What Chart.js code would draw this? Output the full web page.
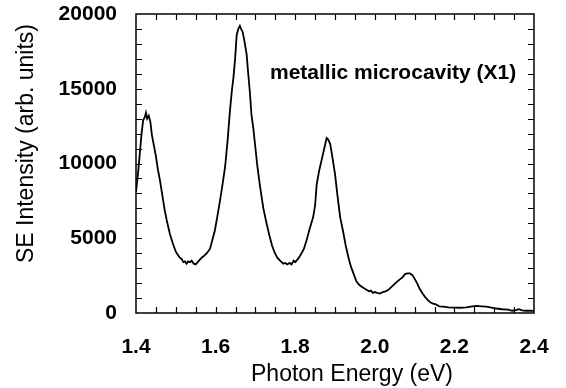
<!DOCTYPE html>
<html>
<head>
<meta charset="utf-8">
<script src="https://cdn.jsdelivr.net/npm/chart.js@4"></script>
<style>
  html, body { margin: 0; padding: 0; background: #fff; }
  #wrap { width: 566px; height: 388px; }
</style>
</head>
<body>
<div id="wrap"><canvas id="seChart"></canvas></div>
<script>
// photon energy (eV) and SE intensity
var energy = [1.400, 1.405, 1.410, 1.414, 1.418, 1.422, 1.425, 1.428, 1.432, 1.436, 1.440, 1.445, 1.450, 1.455, 1.460,
    1.466, 1.472, 1.478, 1.485, 1.492, 1.500, 1.505, 1.510, 1.515, 1.519, 1.523, 1.527, 1.531, 1.536, 1.540, 1.545,
    1.550, 1.555, 1.560, 1.565, 1.570, 1.578, 1.586, 1.592, 1.598, 1.604, 1.611, 1.618, 1.624, 1.630, 1.636, 1.641,
    1.645, 1.649, 1.653, 1.657, 1.661, 1.664, 1.668, 1.673, 1.678, 1.682, 1.686, 1.690, 1.695, 1.699, 1.705, 1.712,
    1.720, 1.728, 1.735, 1.742, 1.749, 1.755, 1.762, 1.770, 1.775, 1.780, 1.786, 1.791, 1.796, 1.800, 1.808, 1.816,
    1.822, 1.829, 1.836, 1.845, 1.850, 1.854, 1.860, 1.867, 1.873, 1.879, 1.883, 1.888, 1.893, 1.900, 1.906, 1.913,
    1.920, 1.927, 1.934, 1.940, 1.947, 1.954, 1.962, 1.970, 1.979, 1.985, 1.990, 1.995, 2.000, 2.006, 2.013, 2.020,
    2.027, 2.034, 2.042, 2.050, 2.056, 2.063, 2.070, 2.076, 2.082, 2.088, 2.094, 2.100, 2.107, 2.113, 2.120, 2.127,
    2.134, 2.140, 2.147, 2.155, 2.162, 2.172, 2.185, 2.200, 2.215, 2.230, 2.245, 2.256, 2.268, 2.280, 2.290, 2.305,
    2.320, 2.335, 2.345, 2.355, 2.362, 2.370, 2.380, 2.390, 2.400];
var intensity = [8100, 9300, 10800, 12000, 12900, 13100, 13400, 13000, 13200, 12800, 11900, 11200, 10500, 9600, 8900,
    7900, 6900, 6100, 5300, 4700, 4100, 3900, 3700, 3600, 3400, 3450, 3300, 3450, 3400, 3500, 3300,
    3250, 3400, 3550, 3700, 3800, 4000, 4300, 4900, 5500, 6400, 7500, 8700, 9800, 11500, 13500, 14900,
    15800, 17000, 18600, 19000, 19200, 19000, 18800, 18100, 17300, 16000, 14800, 13300, 12300, 11300, 9800, 8400,
    7000, 6000, 5200, 4500, 4000, 3700, 3500, 3300, 3350, 3250, 3350, 3250, 3500, 3400, 3650, 4000,
    4300, 4900, 5600, 6400, 7200, 8600, 9500, 10300, 11000, 11700, 11600, 11300, 10500, 9300, 7900, 6400,
    5500, 4500, 3700, 3100, 2600, 2100, 1850, 1700, 1550, 1450, 1500, 1350, 1400, 1350, 1300, 1400,
    1450, 1550, 1750, 1950, 2100, 2250, 2400, 2600, 2650, 2650, 2550, 2300, 1950, 1600, 1300, 1050,
    850, 700, 620, 560, 450, 420, 380, 360, 350, 380, 450, 470, 450, 420, 380, 300,
    250, 230, 150, 200, 260, 180, 150, 160, 140];

var xTitle = 'Photon Energy (eV)';
var yTitle = 'SE Intensity (arb. units)';
var noteText = 'metallic microcavity (X1)';
var noteAt = { x: 2.046, y: 16050 };

var FONT = "'Liberation Sans', Arial, Helvetica, sans-serif";

var points = energy.map(function (e, i) { return { x: e, y: intensity[i] }; });

// frame, inward ticks on all sides, axis titles and the label
var framePlugin = {
    id: 'frame',
    afterDraw: function (chart) {
        var c = chart.ctx, a = chart.chartArea;
        var xs = chart.scales.x, ys = chart.scales.y;
        c.save();
        c.strokeStyle = '#000';
        c.lineWidth = 1.5;
        c.strokeRect(a.left, a.top, a.right - a.left, a.bottom - a.top);
        c.lineWidth = 1.2;
        c.beginPath();
        for (var i = 1; i < 20; i++) {
            var px = Math.round(xs.getPixelForValue(1.4 + i * 0.05)) + 0.5;
            c.moveTo(px, a.bottom); c.lineTo(px, a.bottom - 6);
            c.moveTo(px, a.top); c.lineTo(px, a.top + 6);
        }
        for (var j = 1; j < 20; j++) {
            var py = Math.round(ys.getPixelForValue(j * 1000)) + 0.5;
            c.moveTo(a.left, py); c.lineTo(a.left + 6, py);
            c.moveTo(a.right, py); c.lineTo(a.right - 6, py);
        }
        c.stroke();

        c.fillStyle = '#000';
        c.textAlign = 'center';
        c.textBaseline = 'middle';
        c.font = '23px ' + FONT;
        c.fillText(xTitle, (a.left + a.right) / 2 + 17, 375);
        c.save();
        c.translate(27, (a.top + a.bottom) / 2 - 20);
        c.rotate(-Math.PI / 2);
        c.fillText(yTitle, 0, 0);
        c.restore();

        c.font = 'bold 21px ' + FONT;
        c.fillText(noteText, xs.getPixelForValue(noteAt.x), ys.getPixelForValue(noteAt.y));
        c.restore();
    }
};

var ctx = document.getElementById('seChart').getContext('2d');
var myChart = new Chart(ctx, {
    type: 'scatter',
    data: {
        datasets: [{
            label: 'SE Intensity',
            data: points,
            showLine: true,
            borderColor: '#000',
            borderWidth: 1.8,
            pointRadius: 0,
            tension: 0
        }]
    },
    options: {
        responsive: true,
        maintainAspectRatio: false,
        animation: false,
        layout: { padding: 0 },
        plugins: {
            legend: { display: false },
            tooltip: { enabled: false }
        },
        scales: {
            x: {
                type: 'linear',
                min: 1.4,
                max: 2.4,
                afterFit: function (s) {
                    s.height = 75;
                    s.paddingLeft = 0;
                    s.paddingRight = 32;
                },
                grid: { display: false, drawTicks: false },
                border: { display: false },
                ticks: {
                    stepSize: 0.2,
                    padding: 22,
                    color: '#000',
                    font: { family: FONT, size: 21, weight: 'bold' },
                    callback: function (v) { return Number(v).toFixed(1); }
                }
            },
            y: {
                min: 0,
                max: 20000,
                afterFit: function (s) {
                    s.width = 136;
                    s.paddingTop = 14;
                    s.paddingBottom = 0;
                },
                grid: { display: false, drawTicks: false },
                border: { display: false },
                ticks: {
                    stepSize: 5000,
                    padding: 19,
                    color: '#000',
                    font: { family: FONT, size: 21, weight: 'bold' },
                    callback: function (v) { return String(v); }
                }
            }
        }
    },
    plugins: [framePlugin]
});
</script>
</body>
</html>
